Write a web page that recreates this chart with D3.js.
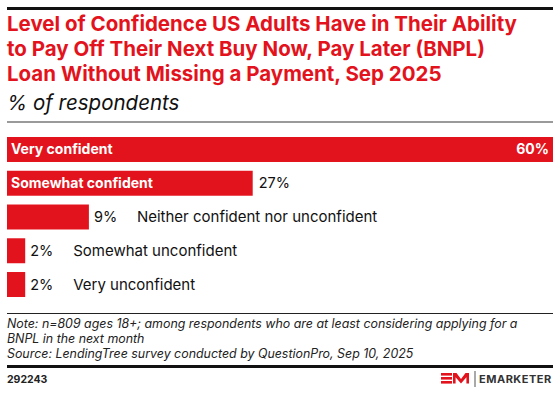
<!DOCTYPE html>
<html>
<head>
<meta charset="utf-8">
<script src="https://cdn.jsdelivr.net/npm/d3@7/dist/d3.min.js"></script>
<style>
  html, body { margin: 0; padding: 0; background: #fff; }
  svg { display: block; font-family: Inter, "Liberation Sans", Arial, sans-serif; }
</style>
</head>
<body>
<svg id="chart" width="560" height="397"></svg>
<script>
// chart data
const categories = ["Very confident", "Somewhat confident", "Neither confident nor unconfident", "Somewhat unconfident", "Very unconfident"];
const values = [60, 27, 9, 2, 2];
const titleLines = [
  "Level of Confidence US Adults Have in Their Ability",
  "to Pay Off Their Next Buy Now, Pay Later (BNPL)",
  "Loan Without Missing a Payment, Sep 2025"
];
const subtitle = "% of respondents";
const noteLines = [
  "Note: n=809 ages 18+; among respondents who are at least considering applying for a",
  "BNPL in the next month",
  "Source: LendingTree survey conducted by QuestionPro, Sep 10, 2025"
];
const chartId = "292243";

const red = "#e3131d";
const svg = d3.select("#chart");

// top rule
svg.append("rect").attr("x", 7).attr("y", 7).attr("width", 546).attr("height", 3).attr("fill", "#111");

// title
svg.append("g").selectAll("text")
  .data(titleLines)
  .enter().append("text")
  .attr("x", 7)
  .attr("y", (d, i) => 31 + i * 25)
  .attr("fill", red)
  .attr("font-size", 20.5)
  .attr("font-weight", "bold")
  .text(d => d);

svg.append("text")
  .attr("x", 7).attr("y", 110)
  .attr("font-size", 20.5)
  .attr("font-style", "italic")
  .attr("fill", "#111")
  .text(subtitle);

svg.append("rect").attr("x", 7).attr("y", 121).attr("width", 546).attr("height", 2).attr("fill", "#9a9a9a");

// bars
const x = d3.scaleLinear().domain([0, d3.max(values)]).range([7, 553]);
const y = d3.scaleBand().domain(categories).range([137, 297]).paddingInner(0.26);

const rows = svg.append("g").selectAll("g")
  .data(categories.map((c, i) => ({ cat: c, val: values[i] })))
  .enter().append("g");

rows.append("rect")
  .attr("x", x(0))
  .attr("y", d => y(d.cat))
  .attr("width", d => x(d.val) - x(0))
  .attr("height", y.bandwidth())
  .attr("fill", red);

const full = x.range()[1] - x.range()[0];
rows.each(function(d) {
  const g = d3.select(this);
  const w = x(d.val) - x(0);
  const cy = y(d.cat) + y.bandwidth() / 2 + 5;
  const cat = g.append("text").attr("x", x(0) + 4).attr("y", cy)
    .attr("font-size", 14).attr("font-weight", "bold").text(d.cat);
  const val = g.append("text").attr("y", cy).attr("font-size", 14.5).text(d.val + "%");
  const catW = cat.node().getComputedTextLength();
  if (w > full * 0.9) {
    cat.attr("fill", "#fff");
    val.attr("font-size", 14).attr("font-weight", "bold").attr("fill", "#fff").attr("text-anchor", "end").attr("x", x(d.val) - 4);
  } else if (w > catW + 12) {
    cat.attr("fill", "#fff");
    val.attr("fill", "#111").attr("x", x(d.val) + 6);
  } else {
    val.attr("fill", "#111").attr("x", x(d.val) + 5);
    cat.attr("font-size", 15).attr("font-weight", "normal").attr("fill", "#111").attr("x", x(d.val) + 48);
  }
});

// footer
svg.append("rect").attr("x", 7).attr("y", 313).attr("width", 546).attr("height", 1).attr("fill", "#222");

svg.append("g").selectAll("text")
  .data(noteLines)
  .enter().append("text")
  .attr("x", 7)
  .attr("y", (d, i) => 328 + i * 15)
  .attr("font-size", 12.4)
  .attr("font-style", "italic")
  .attr("fill", "#222")
  .text(d => d);

svg.append("rect").attr("x", 7).attr("y", 365).attr("width", 546).attr("height", 3).attr("fill", "#111");

svg.append("text")
  .attr("x", 7).attr("y", 383)
  .attr("font-size", 10.5)
  .attr("font-weight", "bold")
  .attr("fill", "#222")
  .text(chartId);

// logo
const logo = svg.append("g").attr("transform", "translate(441,373)");
[0, 4, 8].forEach(dy => logo.append("rect").attr("x", 0).attr("y", dy).attr("width", 11).attr("height", 2.6).attr("fill", red));
logo.append("path")
  .attr("d", "M12,10.6 L12,0 L15.5,0 L20,6 L24.5,0 L28,0 L28,10.6 L25.4,10.6 L25.4,4.2 L20,10.6 L14.6,4.2 L14.6,10.6 Z")
  .attr("fill", red);
svg.append("rect").attr("x", 474.5).attr("y", 371).attr("width", 1).attr("height", 16).attr("fill", "#555");
svg.append("text")
  .attr("x", 479).attr("y", 382.5)
  .attr("font-size", 11)
  .attr("font-weight", "bold")
  .attr("letter-spacing", 0.5)
  .attr("fill", "#333")
  .text("EMARKETER");
</script>
</body>
</html>
